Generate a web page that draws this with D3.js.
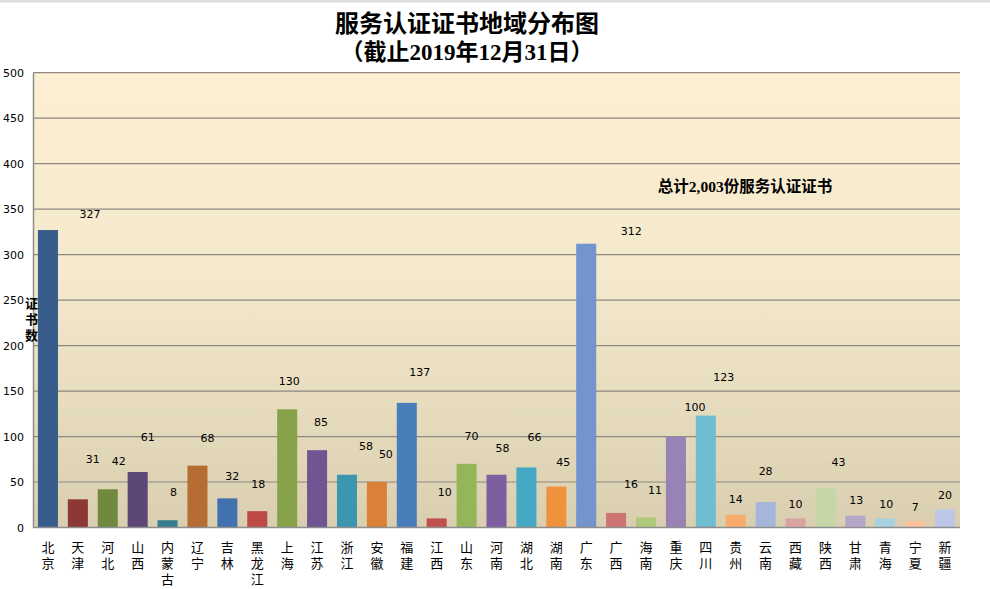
<!DOCTYPE html>
<html><head><meta charset="utf-8">
<script src="https://cdn.jsdelivr.net/npm/d3@7/dist/d3.min.js"></script>
<style>
html,body{margin:0;padding:0;background:#fff;}
svg{display:block;}
</style></head>
<body>
<svg id="chart" width="990" height="589"></svg>
<script>
const provinces = ["北京","天津","河北","山西","内蒙古","辽宁","吉林","黑龙江","上海","江苏","浙江","安徽","福建","江西","山东","河南","湖北","湖南","广东","广西","海南","重庆","四川","贵州","云南","西藏","陕西","甘肃","青海","宁夏","新疆"];
const counts = [327,31,42,61,8,68,32,18,130,85,58,50,137,10,70,58,66,45,312,16,11,100,123,14,28,10,43,13,10,7,20];
const yTicks = [0,50,100,150,200,250,300,350,400,450,500];
const titleLines = ["服务认证证书地域分布图","（截止2019年12月31日）"];
const yAxisTitle = "证书数";
const totalNote = "总计2,003份服务认证证书";

const colors = ["#385D8A","#8C3836","#71893F","#5C4776","#357D91","#B66D31",
  "#4171AE","#BE4B48","#86A34A","#6F5592","#3D96AF","#DA8137",
  "#4A7EBB","#C0504D","#94B658","#7D5FA0","#45A8C4","#F0913E",
  "#7394CC","#CD7371","#AFC97A","#9983B5","#6FBDD1","#F9AB6B",
  "#A5B6DA","#D9A3A2","#C5D6A6","#B3A6C7","#A9D2E0","#FBC29B","#BCC7E5"];
// label nudges relative to bar top centre (px): [dx, dy]
const labelNudge = [[42,-16],[15,-40],[11,-28],[10,-35],[6,-28],[10,-27],[5,-22],[1,-27],[2,-28],[4,-28],
  [19,-28],[9,-28],[13,-30],[8,-26],[5,-27],[6,-26],[8,-30],[7,-24],[45,-12],[15,-28],
  [9,-27],[19,-29],[18,-38],[0,-15],[0,-31],[0,-14],[13,-26],[1,-15],[1,-14],[0,-14],[0,-14]];

const svg = d3.select("#chart");
const W = 990, H = 589;
const mLeft = 33, mRight = 960, mTop = 72.7, mBottom = 527.5;

const defs = svg.append("defs");
const g1 = defs.append("linearGradient").attr("id","bg").attr("x1",0).attr("y1",0).attr("x2",0).attr("y2",1);
g1.append("stop").attr("offset","0%").attr("stop-color","#FDEFD3");
g1.append("stop").attr("offset","45%").attr("stop-color","#F4E9CC");
g1.append("stop").attr("offset","100%").attr("stop-color","#D9CFB0");

// top gray strip
svg.append("rect").attr("x",0).attr("y",0).attr("width",W).attr("height",2.5).attr("fill","#DEDEDE");

const x = d3.scaleBand().domain(provinces).range([mLeft,mRight]).paddingInner(0.33).paddingOuter(0.165);
const y = d3.scaleLinear().domain([0,500]).range([mBottom,mTop]);

svg.append("rect").attr("x",mLeft).attr("y",mTop).attr("width",mRight-mLeft).attr("height",mBottom-mTop).attr("fill","url(#bg)");

// gridlines
svg.append("g").selectAll("line").data(yTicks.filter(d=>d>0)).join("line")
  .attr("x1",mLeft).attr("x2",mRight).attr("y1",d=>y(d)).attr("y2",d=>y(d))
  .attr("stroke","#8E8782").attr("stroke-width",1.2);

// y axis
const yAxis = svg.append("g").attr("transform",`translate(${mLeft},0)`)
  .call(d3.axisLeft(y).tickValues(yTicks).tickSize(0).tickPadding(9));
yAxis.select(".domain").attr("stroke","#8E8E8E").attr("stroke-width",1.5);
yAxis.selectAll("text").attr("font-family","DejaVu Sans, Verdana, sans-serif").attr("font-size",11).attr("fill","#000");

// bars
svg.append("g").selectAll("rect").data(counts).join("rect")
  .attr("x",(d,i)=>x(provinces[i])).attr("y",d=>y(d))
  .attr("width",x.bandwidth()).attr("height",d=>mBottom-y(d))
  .attr("fill",(d,i)=>colors[i]);

// x axis line
svg.append("line").attr("x1",mLeft).attr("x2",mRight).attr("y1",mBottom).attr("y2",mBottom)
  .attr("stroke","#8E8E8E").attr("stroke-width",1.5);

// x labels (vertical stacked)
const xl = svg.append("g").selectAll("text").data(provinces).join("text")
  .attr("text-anchor","middle").attr("dominant-baseline","central")
  .attr("font-family","Liberation Sans, Noto Sans CJK SC, sans-serif").attr("font-size",13).attr("fill","#000");
xl.each(function(d){
  const t = d3.select(this);
  Array.from(d).forEach((ch,k)=>{
    t.append("tspan").attr("x",x(d)+x.bandwidth()/2).attr("y",547+k*16).text(ch);
  });
});

// data labels
svg.append("g").selectAll("text").data(counts).join("text")
  .attr("x",(d,i)=>x(provinces[i])+x.bandwidth()/2+labelNudge[i][0])
  .attr("y",(d,i)=>y(d)+labelNudge[i][1])
  .attr("text-anchor","middle").attr("dominant-baseline","central")
  .attr("font-family","DejaVu Sans, Verdana, sans-serif").attr("font-size",11).attr("fill","#000")
  .text(d=>d);

// y axis title
const yt = svg.append("text").attr("text-anchor","middle").attr("dominant-baseline","central")
  .attr("font-family","Liberation Sans, Noto Sans CJK SC, sans-serif").attr("font-size",13).attr("font-weight","bold");
Array.from(yAxisTitle).forEach((ch,k)=>{
  yt.append("tspan").attr("x",31.5).attr("y",303+k*16).text(ch);
});

// title
svg.append("g").selectAll("text").data(titleLines).join("text")
  .attr("x",467).attr("y",(d,i)=>24+i*28).attr("text-anchor","middle").attr("dominant-baseline","central")
  .attr("font-family","Liberation Serif, Noto Sans CJK SC, serif").attr("font-weight","bold")
  .attr("font-size",(d,i)=>i===0?24:23).text(d=>d);

// note
svg.append("text").attr("x",745).attr("y",186).attr("text-anchor","middle").attr("dominant-baseline","central")
  .attr("font-family","Liberation Serif, Noto Sans CJK SC, serif").attr("font-weight","bold").attr("font-size",15.5)
  .text(totalNote);
</script>
</body></html>
